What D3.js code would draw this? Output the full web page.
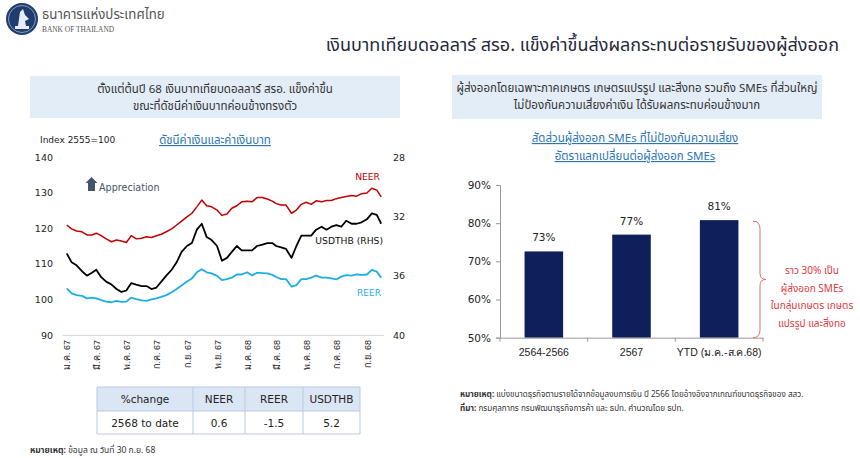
<!DOCTYPE html>
<html lang="th">
<head>
<meta charset="utf-8">
<script src="https://cdn.jsdelivr.net/npm/d3@7"></script>
<style>
  body { margin: 0; background: #fff; }
  svg { display: block; font-family: "Noto Sans Thai", "Noto Sans Thai UI", Tahoma, "DejaVu Sans", sans-serif; }
</style>
</head>
<body>
<div id="slide"></div>
<script>
// ---- left chart: currency indices (10-day samples) ----
const dates = [
  "2024-01-01","2024-01-11","2024-01-21","2024-02-01","2024-02-11","2024-02-21",
  "2024-03-01","2024-03-11","2024-03-21","2024-04-01","2024-04-11","2024-04-21",
  "2024-05-01","2024-05-11","2024-05-21","2024-06-01","2024-06-11","2024-06-21",
  "2024-07-01","2024-07-11","2024-07-21","2024-08-01","2024-08-11","2024-08-21",
  "2024-09-01","2024-09-11","2024-09-21","2024-10-01","2024-10-11","2024-10-21",
  "2024-11-01","2024-11-11","2024-11-21","2024-12-01","2024-12-11","2024-12-21",
  "2025-01-01","2025-01-11","2025-01-21","2025-02-01","2025-02-11","2025-02-21",
  "2025-03-01","2025-03-11","2025-03-21","2025-04-01","2025-04-11","2025-04-21",
  "2025-05-01","2025-05-11","2025-05-21","2025-06-01","2025-06-11","2025-06-21",
  "2025-07-01","2025-07-11","2025-07-21","2025-08-01","2025-08-11","2025-08-21",
  "2025-09-01","2025-09-11","2025-09-21","2025-09-30"
];
const neer = [
  120.9, 119.8, 119.2, 119.0, 118.1, 118.1, 118.6, 117.9, 117.0, 116.2, 116.7, 116.4,
  116.0, 117.9, 117.0, 117.2, 117.6, 117.4, 117.9, 118.3, 119.0, 119.8, 120.9, 122.0,
  123.2, 124.2, 126.0, 127.9, 126.3, 126.0, 125.1, 123.6, 124.0, 125.6, 126.3, 127.4,
  127.6, 127.4, 128.6, 128.6, 128.2, 127.6, 126.9, 126.5, 126.5, 124.2, 125.1, 126.7,
  127.3, 126.7, 127.7, 127.4, 127.8, 127.8, 128.3, 128.6, 128.9, 129.2, 129.0, 129.7,
  129.9, 131.2, 130.7, 128.8
];
const reer = [
  103.1, 101.7, 101.2, 101.0, 100.3, 100.5, 100.3, 99.8, 99.4, 99.2, 99.6, 99.3,
  99.4, 100.5, 100.1, 99.7, 99.6, 100.0, 100.3, 100.7, 101.2, 102.0, 102.9, 103.9,
  105.0, 105.9, 107.6, 108.5, 107.6, 107.3, 106.6, 105.4, 105.7, 106.1, 107.0, 107.0,
  107.6, 106.7, 107.5, 107.4, 107.3, 106.9, 106.3, 105.7, 105.7, 103.6, 104.0, 105.7,
  105.7, 106.1, 106.7, 106.1, 106.1, 105.9, 105.6, 106.4, 106.8, 106.7, 107.0, 106.9,
  107.0, 108.3, 107.8, 106.1
];
const usdthb = [
  34.5, 35.1, 35.3, 35.7, 36.0, 35.8, 35.6, 36.1, 36.4, 36.6, 36.9, 37.1,
  37.0, 36.5, 36.6, 36.7, 36.7, 36.9, 36.8, 36.4, 36.0, 35.6, 35.1, 34.4,
  34.0, 33.8, 32.9, 32.5, 33.4, 33.6, 34.0, 35.0, 34.8, 34.4, 34.0, 34.3,
  34.3, 34.3, 34.0, 33.9, 33.8, 33.8, 34.0, 34.1, 34.2, 34.8, 34.0, 33.3,
  33.3, 33.3, 32.9, 32.7, 32.9, 32.7, 32.6, 32.7, 32.3, 32.5, 32.5, 32.4,
  32.2, 31.8, 31.9, 32.5
];
const monthTicks = ["2024-01-01","2024-03-01","2024-05-01","2024-07-01","2024-09-01","2024-11-01",
  "2025-01-01","2025-03-01","2025-05-01","2025-07-01","2025-09-01"];
const monthLabels = ["ม.ค. 67","มี.ค. 67","พ.ค. 67","ก.ค. 67","ก.ย. 67","พ.ย. 67",
  "ม.ค. 68","มี.ค. 68","พ.ค. 68","ก.ค. 68","ก.ย. 68"];
const leftTicks = [90, 100, 110, 120, 130, 140];
const rightTicks = [28, 32, 36, 40];

// ---- table under the left chart ----
const tableHead = ["%change", "NEER", "REER", "USDTHB"];
const tableRow = ["2568 to date", "0.6", "-1.5", "5.2"];

// ---- right chart: share of SME exporters not hedging FX ----
const barCats = ["2564-2566", "2567", "YTD (ม.ค.-ส.ค.68)"];
const barVals = [72.6, 77.0, 80.8];
const barTicks = [50, 60, 70, 80, 90];

const W = 860, H = 458;
const svg = d3.select("#slide").append("svg").attr("width", W).attr("height", H);

// ---------------- header ----------------
const logo = svg.append("g").attr("transform", "translate(22,19)");
logo.append("circle").attr("r", 16).attr("fill", "#1f3d6f");
logo.append("circle").attr("r", 13.5).attr("fill", "none").attr("stroke", "#9fb3d1").attr("stroke-width", 0.8);
logo.append("path").attr("d", "M-4,7 L-2,-7 L1,-10 L3,-4 L7,0 L3,2 L4,7 Z").attr("fill", "#e8edf5");
logo.append("rect").attr("x", -7).attr("y", 7).attr("width", 14).attr("height", 3).attr("fill", "#e8edf5");

svg.append("text").attr("x", 42).attr("y", 19)
  .attr("font-size", 13.3).attr("fill", "#555").text("ธนาคารแห่งประเทศไทย");
svg.append("text").attr("x", 42).attr("y", 32)
  .attr("font-size", 7.4).attr("fill", "#555")
  .style("font-family", "'Liberation Serif', serif").text("BANK OF THAILAND");

svg.append("text").attr("x", 839).attr("y", 51).attr("text-anchor", "end")
  .attr("font-size", 18).attr("fill", "#1f2a3c")
  .text("เงินบาทเทียบดอลลาร์ สรอ. แข็งค่าขึ้นส่งผลกระทบต่อรายรับของผู้ส่งออก");

// ---------------- panel headers ----------------
function panelBox(x, y, w, h, lines) {
  svg.append("rect").attr("x", x).attr("y", y).attr("width", w).attr("height", h).attr("fill", "#e2edf8");
  lines.forEach((t, i) => {
    svg.append("text").attr("x", x + w / 2).attr("y", y + 17 + i * 17)
      .attr("text-anchor", "middle").attr("font-size", 11.5).attr("fill", "#333").text(t);
  });
}
panelBox(30, 76, 370, 42, ["ตั้งแต่ต้นปี 68 เงินบาทเทียบดอลลาร์ สรอ. แข็งค่าขึ้น", "ขณะที่ดัชนีค่าเงินบาทค่อนข้างทรงตัว"]);
panelBox(452, 75, 370, 44, ["ผู้ส่งออกโดยเฉพาะภาคเกษตร เกษตรแปรรูป และสิ่งทอ รวมถึง SMEs ที่ส่วนใหญ่", "ไม่ป้องกันความเสี่ยงค่าเงิน ได้รับผลกระทบค่อนข้างมาก"]);

// ---------------- left chart ----------------
const parse = d3.timeParse("%Y-%m-%d");
const series = dates.map((d, i) => ({ date: parse(d), neer: neer[i], reer: reer[i], usd: usdthb[i] }));

const x = d3.scaleTime().domain([parse("2024-01-01"), parse("2025-10-01")]).range([66.7, 381.7]);
const yL = d3.scaleLinear().domain([90, 140]).range([335, 157]);
const yR = d3.scaleLinear().domain([28, 40]).range([157, 335]);

svg.append("text").attr("x", 40).attr("y", 143).attr("font-size", 9).attr("fill", "#222")
  .style("font-family", "'DejaVu Sans', sans-serif").text("Index 2555=100");
svg.append("text").attr("x", 215).attr("y", 144).attr("text-anchor", "middle")
  .attr("font-size", 11.5).attr("fill", "#2e75b6").attr("text-decoration", "underline")
  .text("ดัชนีค่าเงินและค่าเงินบาท");

const axL = svg.append("g").attr("transform", "translate(55,0)")
  .call(d3.axisLeft(yL).tickValues(leftTicks).tickSize(0).tickPadding(2));
axL.select(".domain").remove();
axL.selectAll("text").attr("font-size", 9.5).attr("fill", "#222").style("font-family", "'DejaVu Sans', sans-serif");

const axR = svg.append("g").attr("transform", "translate(391,0)")
  .call(d3.axisRight(yR).tickValues(rightTicks).tickSize(0).tickPadding(2));
axR.select(".domain").remove();
axR.selectAll("text").attr("font-size", 9.5).attr("fill", "#222").style("font-family", "'DejaVu Sans', sans-serif");

const axX = svg.append("g").attr("transform", "translate(0,335)")
  .call(d3.axisBottom(x).tickValues(monthTicks.map(parse)).tickSize(0)
    .tickFormat((d, i) => monthLabels[i]));
axX.select(".domain").attr("stroke", "#d9d9d9").attr("d", "M62.5,0.5H384");
axX.selectAll("text")
  .attr("font-size", 9).attr("fill", "#222")
  .attr("transform", "rotate(-90)")
  .attr("text-anchor", "end")
  .attr("x", -5).attr("y", 0).attr("dy", "0.35em");

const lineNeer = d3.line().x(d => x(d.date)).y(d => yL(d.neer));
const lineReer = d3.line().x(d => x(d.date)).y(d => yL(d.reer));
const lineUsd = d3.line().x(d => x(d.date)).y(d => yR(d.usd));

svg.append("path").datum(series).attr("d", lineReer).attr("fill", "none")
  .attr("stroke", "#1eaee6").attr("stroke-width", 1.8).attr("stroke-linejoin", "round");
svg.append("path").datum(series).attr("d", lineUsd).attr("fill", "none")
  .attr("stroke", "#000").attr("stroke-width", 1.8).attr("stroke-linejoin", "round");
svg.append("path").datum(series).attr("d", lineNeer).attr("fill", "none")
  .attr("stroke", "#c00000").attr("stroke-width", 1.5).attr("stroke-linejoin", "round");

svg.append("text").attr("x", 380).attr("y", 180).attr("text-anchor", "end")
  .attr("font-size", 9.2).attr("fill", "#c00000").style("font-family", "'DejaVu Sans', sans-serif").text("NEER");
svg.append("text").attr("x", 383).attr("y", 244).attr("text-anchor", "end")
  .attr("font-size", 9.2).attr("fill", "#111").style("font-family", "'DejaVu Sans', sans-serif").text("USDTHB (RHS)");
svg.append("text").attr("x", 381).attr("y", 296).attr("text-anchor", "end")
  .attr("font-size", 9).attr("fill", "#1eaee6").style("font-family", "'DejaVu Sans', sans-serif").text("REER");

// appreciation arrow
svg.append("path").attr("d", "M88,187 L88,183 L85.5,183 L91.5,177 L97.5,183 L95,183 L95,191 L88,191 Z")
  .attr("fill", "#44546a");
svg.append("text").attr("x", 99).attr("y", 191).attr("font-size", 9.6).attr("fill", "#44546a")
  .style("font-family", "'DejaVu Sans', sans-serif").text("Appreciation");

// ---------------- table ----------------
const colX = [97, 193, 245, 303, 360];
const rowY = [387, 411, 434];
svg.append("rect").attr("x", colX[0]).attr("y", rowY[0]).attr("width", colX[4] - colX[0])
  .attr("height", rowY[1] - rowY[0]).attr("fill", "#dbe6f4");
[tableHead, tableRow].forEach((row, r) => {
  row.forEach((t, c) => {
    svg.append("text").attr("x", (colX[c] + colX[c + 1]) / 2).attr("y", (rowY[r] + rowY[r + 1]) / 2 + 4)
      .attr("text-anchor", "middle").attr("font-size", 10.5).attr("fill", "#222")
      .style("font-family", "'DejaVu Sans', sans-serif").text(t);
  });
});
const grid = svg.append("g").attr("stroke", "#b7c9e2").attr("stroke-width", 1).attr("fill", "none");
rowY.forEach(yy => grid.append("line").attr("x1", colX[0]).attr("x2", colX[4]).attr("y1", yy).attr("y2", yy));
colX.forEach(xx => grid.append("line").attr("x1", xx).attr("x2", xx).attr("y1", rowY[0]).attr("y2", rowY[2]));

const noteL = svg.append("text").attr("x", 30).attr("y", 453).attr("font-size", 8.5).attr("fill", "#333");
noteL.append("tspan").attr("font-weight", "bold").text("หมายเหตุ: ");
noteL.append("tspan").text("ข้อมูล ณ วันที่ 30 ก.ย. 68");

// ---------------- right chart ----------------
const titleR = ["สัดส่วนผู้ส่งออก SMEs ที่ไม่ป้องกันความเสี่ยง", "อัตราแลกเปลี่ยนต่อผู้ส่งออก SMEs"];
titleR.forEach((t, i) => {
  svg.append("text").attr("x", 635).attr("y", 142 + i * 18).attr("text-anchor", "middle")
    .attr("font-size", 11.5).attr("fill", "#2e75b6").attr("text-decoration", "underline").text(t);
});

const xb = d3.scaleBand().domain(barCats).range([500, 763]).paddingInner(0.56).paddingOuter(0.28);
const yb = d3.scaleLinear().domain([50, 90]).range([337.7, 185]);

const axYb = svg.append("g").attr("transform", "translate(500,0)")
  .call(d3.axisLeft(yb).tickValues(barTicks).tickSize(4).tickPadding(5).tickFormat(d => d + "%"));
axYb.selectAll("path,line").attr("stroke", "#999");
axYb.selectAll("text").attr("font-size", 10.5).attr("fill", "#222").style("font-family", "'DejaVu Sans', sans-serif");

svg.selectAll(".bar").data(barVals).enter().append("rect")
  .attr("class", "bar")
  .attr("x", (d, i) => xb(barCats[i]))
  .attr("width", xb.bandwidth())
  .attr("y", d => yb(d))
  .attr("height", d => yb(50) - yb(d))
  .attr("fill", "#0f1f5c");

svg.selectAll(".val").data(barVals).enter().append("text")
  .attr("x", (d, i) => xb(barCats[i]) + xb.bandwidth() / 2)
  .attr("y", d => yb(d) - 10)
  .attr("text-anchor", "middle").attr("font-size", 10.5).attr("fill", "#222")
  .style("font-family", "'DejaVu Sans', sans-serif")
  .text(d => Math.round(d) + "%");

const axXb = svg.append("g").attr("transform", `translate(0,${yb(50)})`)
  .call(d3.axisBottom(xb).tickSize(0).tickPadding(11));
axXb.select(".domain").attr("stroke", "#999");
axXb.selectAll("text").attr("font-size", 10.5).attr("fill", "#222");
// boundary ticks between categories
const step = xb.step();
const bounds = [500].concat(barCats.map((c, i) => xb(c) + xb.bandwidth() / 2 + step / 2));
svg.selectAll(".bt").data(bounds).enter().append("line")
  .attr("x1", d => d).attr("x2", d => d).attr("y1", yb(50)).attr("y2", yb(50) + 4).attr("stroke", "#999");

// brace and note
const bx = 753, by0 = yb(barVals[2]) + 1, by1 = yb(50), bm = (by0 + by1) / 2;
svg.append("path")
  .attr("d", `M${bx},${by0} Q${bx + 7},${by0} ${bx + 7},${by0 + 8} L${bx + 7},${bm - 6} Q${bx + 7},${bm} ${bx + 13},${bm}
              Q${bx + 7},${bm} ${bx + 7},${bm + 6} L${bx + 7},${by1 - 8} Q${bx + 7},${by1} ${bx},${by1}`)
  .attr("fill", "none").attr("stroke", "#e46c6c").attr("stroke-width", 1);
const braceNote = ["ราว 30% เป็น", "ผู้ส่งออก SMEs", "ในกลุ่มเกษตร เกษตร", "แปรรูป และสิ่งทอ"];
braceNote.forEach((t, i) => {
  svg.append("text").attr("x", 812).attr("y", 274 + i * 17.5).attr("text-anchor", "middle")
    .attr("font-size", 10).attr("fill", "#e0383e").text(t);
});

const noteR1 = svg.append("text").attr("x", 460).attr("y", 397).attr("font-size", 8.1).attr("fill", "#333");
noteR1.append("tspan").attr("font-weight", "bold").text("หมายเหตุ: ");
noteR1.append("tspan").text("แบ่งขนาดธุรกิจตามรายได้จากข้อมูลงบการเงิน ปี 2566 โดยอ้างอิงจากเกณฑ์ขนาดธุรกิจของ สสว.");
const noteR2 = svg.append("text").attr("x", 460).attr("y", 411).attr("font-size", 8.1).attr("fill", "#333");
noteR2.append("tspan").attr("font-weight", "bold").text("ที่มา: ");
noteR2.append("tspan").text("กรมศุลกากร กรมพัฒนาธุรกิจการค้า และ ธปท. คำนวณโดย ธปท.");
</script>
</body>
</html>
